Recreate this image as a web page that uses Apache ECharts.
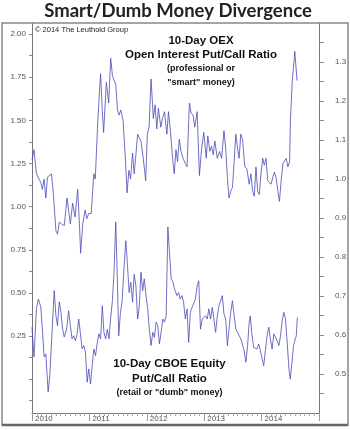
<!DOCTYPE html>
<html>
<head>
<meta charset="utf-8">
<script src="https://cdn.jsdelivr.net/npm/echarts@6/dist/echarts.min.js"></script>
<style>
html,body{margin:0;padding:0;background:#fff;}
#c{width:350px;height:430px;}
</style>
</head>
<body>
<div id="c"></div>
<script>
// 10-Day OEX Open Interest Put/Call Ratio (left axis)
const oexYears = [2010.0,2010.035,2010.076,2010.153,2010.181,2010.211,2010.241,2010.269,2010.299,2010.339,
2010.369,2010.417,2010.445,2010.475,2010.515,2010.562,2010.61,2010.638,2010.668,2010.708,
2010.75,2010.796,2010.826,2010.847,2010.884,2010.926,2010.954,2010.989,2011.032,2011.077,
2011.102,2011.148,2011.195,2011.225,2011.248,2011.295,2011.336,2011.371,2011.401,2011.429,
2011.459,2011.489,2011.517,2011.547,2011.587,2011.629,2011.657,2011.687,2011.717,2011.752,
2011.78,2011.81,2011.84,2011.868,2011.898,2011.938,2011.981,2012.009,2012.039,2012.074,
2012.114,2012.144,2012.174,2012.202,2012.244,2012.272,2012.308,2012.35,2012.378,2012.408,
2012.455,2012.478,2012.508,2012.536,2012.566,2012.596,2012.631,2012.671,2012.701,2012.742,
2012.772,2012.807,2012.835,2012.877,2012.917,2012.953,2012.993,2013.035,2013.063,2013.098,
2013.128,2013.158,2013.186,2013.228,2013.269,2013.304,2013.344,2013.374,2013.404,2013.432,
2013.462,2013.492,2013.52,2013.55,2013.58,2013.608,2013.638,2013.668,2013.708,2013.743,
2013.784,2013.814,2013.844,2013.872,2013.902,2013.931,2013.96,2013.989,2014.019,2014.047,
2014.077,2014.107,2014.135,2014.165,2014.195,2014.223,2014.253,2014.283,2014.311,2014.341,
2014.371,2014.399,2014.429,2014.459,2014.487,2014.504,2014.534,2014.564,2014.578,2014.617];
const oexValues = [1.27,1.33,1.19,1.14,1.10,1.16,1.05,1.17,1.16,1.19,
1.09,0.86,0.84,0.91,0.90,0.89,1.05,1.06,0.90,1.02,
0.94,1.10,0.90,0.73,0.90,0.98,0.93,0.96,0.96,1.19,
1.16,1.51,1.77,1.55,1.43,1.72,1.60,1.86,1.76,1.73,
1.71,1.56,1.53,1.56,1.50,1.26,1.08,1.21,1.16,1.31,
1.19,1.30,1.42,1.40,1.38,1.28,1.15,1.42,1.46,1.74,
1.51,1.59,1.45,1.57,1.46,1.51,1.55,1.42,1.55,1.45,
1.26,1.19,1.33,1.26,1.39,1.32,1.28,1.25,1.23,1.60,
1.54,1.53,1.46,1.55,1.18,1.33,1.43,1.28,1.41,1.32,
1.35,1.30,1.38,1.28,1.32,1.28,1.44,1.34,1.17,1.05,
1.09,1.11,1.25,1.42,1.34,1.28,1.42,1.39,1.23,1.22,
1.13,1.19,1.09,1.06,1.23,1.09,1.07,1.19,1.28,1.24,
1.28,1.15,1.14,1.13,1.17,1.20,1.17,1.09,1.03,1.15,
1.25,1.26,1.28,1.23,1.26,1.51,1.73,1.84,1.90,1.73];

// 10-Day CBOE Equity Put/Call Ratio (right axis)
const cboeYears = [2010.0,2010.012,2010.035,2010.076,2010.111,2010.153,2010.181,2010.211,2010.241,2010.281,
2010.311,2010.346,2010.387,2010.417,2010.445,2010.475,2010.504,2010.533,2010.562,2010.603,
2010.638,2010.668,2010.698,2010.726,2010.756,2010.786,2010.814,2010.844,2010.873,2010.902,
2010.931,2010.961,2010.989,2011.019,2011.049,2011.077,2011.107,2011.137,2011.165,2011.195,
2011.225,2011.253,2011.283,2011.313,2011.341,2011.371,2011.401,2011.429,2011.459,2011.482,
2011.511,2011.541,2011.569,2011.605,2011.634,2011.664,2011.692,2011.722,2011.752,2011.78,
2011.81,2011.84,2011.868,2011.898,2011.928,2011.956,2011.986,2012.016,2012.044,2012.074,
2012.104,2012.132,2012.162,2012.192,2012.22,2012.25,2012.28,2012.308,2012.337,2012.367,
2012.395,2012.425,2012.455,2012.483,2012.525,2012.554,2012.583,2012.613,2012.641,2012.671,
2012.701,2012.729,2012.759,2012.789,2012.817,2012.847,2012.877,2012.905,2012.935,2012.965,
2012.993,2013.023,2013.053,2013.081,2013.111,2013.141,2013.169,2013.199,2013.229,2013.257,
2013.286,2013.316,2013.344,2013.374,2013.404,2013.432,2013.462,2013.492,2013.52,2013.55,
2013.58,2013.608,2013.638,2013.668,2013.696,2013.726,2013.756,2013.784,2013.802,2013.831,
2013.861,2013.889,2013.919,2013.949,2013.977,2014.007,2014.037,2014.065,2014.095,2014.125,
2014.153,2014.183,2014.213,2014.241,2014.271,2014.301,2014.329,2014.359,2014.388,2014.416,
2014.446,2014.476,2014.499,2014.529,2014.557,2014.587,2014.605,2014.622];
const cboeValues = [0.62,0.59,0.544,0.667,0.692,0.672,0.615,0.544,0.551,0.454,
0.496,0.598,0.714,0.649,0.624,0.685,0.659,0.615,0.595,0.615,
0.662,0.624,0.59,0.598,0.585,0.603,0.641,0.603,0.564,0.573,
0.556,0.479,0.513,0.474,0.521,0.564,0.547,0.581,0.603,0.59,
0.675,0.607,0.59,0.615,0.59,0.645,0.688,0.761,0.89,0.769,
0.598,0.658,0.684,0.778,0.842,0.778,0.709,0.735,0.684,0.756,
0.726,0.641,0.671,0.761,0.714,0.744,0.701,0.667,0.615,0.573,
0.607,0.594,0.633,0.624,0.577,0.607,0.641,0.633,0.649,0.877,
0.812,0.744,0.736,0.718,0.701,0.709,0.692,0.701,0.684,0.641,
0.667,0.581,0.658,0.671,0.667,0.692,0.726,0.739,0.615,0.641,
0.645,0.649,0.641,0.667,0.641,0.671,0.641,0.607,0.649,0.675,
0.671,0.701,0.654,0.641,0.573,0.615,0.658,0.688,0.684,0.615,
0.607,0.603,0.59,0.594,0.56,0.53,0.573,0.633,0.649,0.603,
0.568,0.573,0.564,0.577,0.56,0.564,0.521,0.56,0.598,0.62,
0.59,0.564,0.603,0.607,0.585,0.573,0.598,0.637,0.658,0.641,
0.581,0.513,0.487,0.53,0.573,0.59,0.598,0.645];

// Axis tick labels
const yearLabels = [2010, 2011, 2012, 2013, 2014];
const leftLabels = [0.25, 0.50, 0.75, 1.00, 1.25, 1.50, 1.75, 2.00];
const leftTicks = [-0.125, 0, 0.125, 0.25, 0.375, 0.5, 0.625, 0.75, 0.875, 1.0, 1.125, 1.25, 1.375, 1.5, 1.625, 1.75, 1.875, 2.0];
const rightLabels = [0.5, 0.6, 0.7, 0.8, 0.9, 1.0, 1.1, 1.2, 1.3];
const rightTicks = [0.45, 0.5, 0.55, 0.6, 0.65, 0.7, 0.75, 0.8, 0.85, 0.9, 0.95, 1.0, 1.05, 1.1, 1.15, 1.2, 1.25, 1.3, 1.35];

const oexData = oexYears.map((x, i) => [x, oexValues[i]]);
const cboeData = cboeYears.map((x, i) => [x, cboeValues[i]]);

const chart = echarts.init(document.getElementById('c'), null, {renderer: 'canvas'});
const lineColor = '#4a4ab8';
const axisColor = '#777';
const labelColor = '#555';
const labelFont = 'Liberation Sans, Arial, sans-serif';
const annFont = '"Liberation Sans", Arial, sans-serif';

chart.setOption({
  animation: false,
  backgroundColor: '#fff',
  grid: {left: 32, right: 31, top: 23, bottom: 17, containLabel: false},
  xAxis: {
    type: 'value', min: 2010, max: 2015, interval: 1,
    axisLine: {show: true, onZero: false, lineStyle: {color: axisColor, width: 1}},
    axisTick: {show: true, length: 8, lineStyle: {color: '#999'}},
    minorTick: {show: true, splitNumber: 12, length: 3, lineStyle: {color: '#aaa'}},
    splitLine: {show: false},
    axisLabel: {
      customValues: yearLabels,
      formatter: v => String(Math.round(v)),
      fontSize: 8, color: labelColor, fontFamily: labelFont,
      align: 'left', margin: 2, padding: [0, 0, 0, 3]
    }
  },
  yAxis: [
    {
      type: 'value', position: 'left', min: -0.196, max: 2.064,
      axisLine: {show: true, onZero: false, lineStyle: {color: axisColor, width: 1}},
      axisTick: {show: true, customValues: leftTicks, length: 3, lineStyle: {color: '#888'}},
      splitLine: {show: false},
      axisLabel: {
        customValues: leftLabels,
        formatter: v => v.toFixed(2),
        fontSize: 8, color: labelColor, fontFamily: labelFont, margin: 6
      }
    },
    {
      type: 'value', position: 'right', min: 0.40, max: 1.40,
      axisLine: {show: true, onZero: false, lineStyle: {color: axisColor, width: 1}},
      axisTick: {show: true, customValues: rightTicks, length: 5, lineStyle: {color: '#888'}},
      splitLine: {show: false},
      axisLabel: {
        customValues: rightLabels,
        formatter: v => v.toFixed(1),
        fontSize: 8, color: labelColor, fontFamily: labelFont, margin: 16
      }
    }
  ],
  series: [
    {
      name: '10-Day OEX Open Interest Put/Call Ratio', type: 'line', yAxisIndex: 0,
      data: oexData, showSymbol: false, symbol: 'none',
      lineStyle: {color: lineColor, width: 0.8}
    },
    {
      name: '10-Day CBOE Equity Put/Call Ratio', type: 'line', yAxisIndex: 1,
      data: cboeData, showSymbol: false, symbol: 'none',
      lineStyle: {color: lineColor, width: 0.8}
    }
  ],
  graphic: [
    {type: 'rect', shape: {x: 2, y: 23, width: 346, height: 402}, silent: true,
     style: {fill: 'none', stroke: '#888', lineWidth: 1.5}, z: 100},
    {type: 'line', shape: {x1: 2, y1: 425, x2: 348, y2: 425}, silent: true,
     style: {stroke: '#666', lineWidth: 2.5}, z: 100},
    {type: 'text', x: 178, y: 11, silent: true,
     style: {text: 'Smart/Dumb Money Divergence', fill: '#222', font: 'bold 18.5px Lato, "Open Sans", sans-serif',
             textAlign: 'center', textVerticalAlign: 'middle'}},
    {type: 'text', x: 35, y: 29.5, silent: true,
     style: {text: '© 2014 The Leuthold Group', fill: '#222', font: '7.5px ' + annFont,
             textAlign: 'left', textVerticalAlign: 'middle'}},
    {type: 'text', x: 201, y: 41, silent: true,
     style: {text: '10-Day OEX', fill: '#111', font: 'bold 11.5px ' + annFont,
             textAlign: 'center', textVerticalAlign: 'middle'}},
    {type: 'text', x: 201, y: 55, silent: true,
     style: {text: 'Open Interest Put/Call Ratio', fill: '#111', font: 'bold 11.5px ' + annFont,
             textAlign: 'center', textVerticalAlign: 'middle'}},
    {type: 'text', x: 201, y: 69, silent: true,
     style: {text: '(professional or', fill: '#111', font: 'bold 9px ' + annFont,
             textAlign: 'center', textVerticalAlign: 'middle'}},
    {type: 'text', x: 201, y: 83, silent: true,
     style: {text: '"smart" money)', fill: '#111', font: 'bold 9px ' + annFont,
             textAlign: 'center', textVerticalAlign: 'middle'}},
    {type: 'text', x: 169.5, y: 364, silent: true,
     style: {text: '10-Day CBOE Equity', fill: '#111', font: 'bold 11.5px ' + annFont,
             textAlign: 'center', textVerticalAlign: 'middle'}},
    {type: 'text', x: 169.5, y: 379, silent: true,
     style: {text: 'Put/Call Ratio', fill: '#111', font: 'bold 11.5px ' + annFont,
             textAlign: 'center', textVerticalAlign: 'middle'}},
    {type: 'text', x: 169.5, y: 393, silent: true,
     style: {text: '(retail or "dumb" money)', fill: '#111', font: 'bold 9px ' + annFont,
             textAlign: 'center', textVerticalAlign: 'middle'}}
  ]
});
</script>
</body>
</html>
